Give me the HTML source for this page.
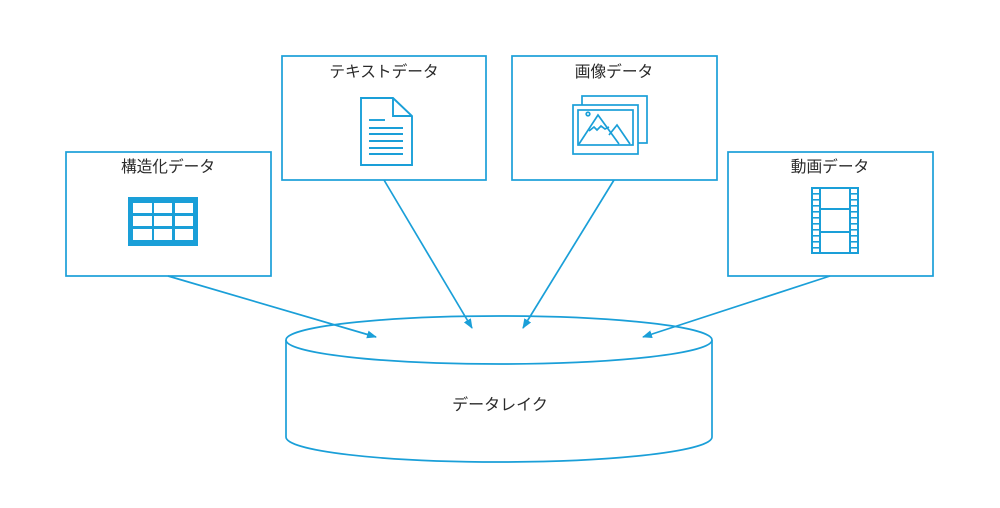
<!DOCTYPE html>
<html><head><meta charset="utf-8">
<style>
html,body{margin:0;padding:0;background:#fff;}
svg{display:block;}
text{font-family:"Liberation Sans","Noto Sans CJK JP",sans-serif;fill:#2a2a2a;}
</style></head>
<body>
<svg width="1000" height="508" viewBox="0 0 1000 508" xmlns="http://www.w3.org/2000/svg">
<defs>
<marker id="ah" markerWidth="10" markerHeight="8" refX="9" refY="4" orient="auto" markerUnits="userSpaceOnUse">
<path d="M0,0 L10,4 L0,8 Z" fill="#1a9fd8"/>
</marker>
</defs>
<g fill="none" stroke="#1a9fd8" stroke-width="1.7">
<!-- boxes -->
<rect x="66" y="152" width="205" height="124"/>
<rect x="282" y="56" width="204" height="124"/>
<rect x="512" y="56" width="205" height="124"/>
<rect x="728" y="152" width="205" height="124"/>
<!-- cylinder -->
<path d="M286,340 L286,437 A213,25 0 0 0 712,437 L712,340" fill="#fff"/>
<ellipse cx="499" cy="340" rx="213" ry="24" fill="#fff"/>
<!-- arrows -->
<line x1="168" y1="276" x2="376" y2="337" marker-end="url(#ah)"/>
<line x1="384" y1="180" x2="472" y2="328" marker-end="url(#ah)"/>
<line x1="614" y1="180" x2="523" y2="328" marker-end="url(#ah)"/>
<line x1="830" y1="276" x2="643" y2="337" marker-end="url(#ah)"/>
</g>

<!-- table icon -->
<rect x="128" y="197" width="70" height="49" fill="#1a9fd8"/>
<g fill="#fff">
<rect x="133" y="203" width="19" height="10"/><rect x="154" y="203" width="18" height="10"/><rect x="175" y="203" width="18" height="10"/>
<rect x="133" y="216" width="19" height="10"/><rect x="154" y="216" width="18" height="10"/><rect x="175" y="216" width="18" height="10"/>
<rect x="133" y="229" width="19" height="11"/><rect x="154" y="229" width="18" height="11"/><rect x="175" y="229" width="18" height="11"/>
</g>

<!-- document icon -->
<g fill="none" stroke="#1a9fd8" stroke-width="1.9">
<path d="M361,98 L393,98 L412,116 L412,165 L361,165 Z" fill="#fff"/>
<path d="M393,98 L393,116 L412,116"/>
<line x1="369" y1="120" x2="385" y2="120"/>
<line x1="369" y1="128" x2="403" y2="128"/>
<line x1="369" y1="134" x2="403" y2="134"/>
<line x1="369" y1="141" x2="403" y2="141"/>
<line x1="369" y1="148" x2="403" y2="148"/>
<line x1="369" y1="154" x2="403" y2="154"/>
</g>

<!-- image icon -->
<g fill="none" stroke="#1a9fd8" stroke-width="1.7">
<rect x="582" y="96" width="65" height="47" fill="#fff"/>
<rect x="573" y="105" width="65" height="49" fill="#fff"/>
<rect x="578" y="110" width="55" height="35"/>
<circle cx="588" cy="114" r="1.8"/>
<path d="M579,144 L598,115 L619,144"/>
<path d="M589,131 L594,127 L597,130 L601,126 L605,129 L609,127"/>
<path d="M609,135 L617,125 L630,144"/>
</g>

<!-- film icon -->
<g fill="none" stroke="#1a9fd8" stroke-width="2">
<rect x="812" y="188" width="46" height="65" fill="#fff"/>
<line x1="820" y1="188" x2="820" y2="253"/>
<line x1="850" y1="188" x2="850" y2="253"/>
<line x1="820" y1="209" x2="850" y2="209"/>
<line x1="820" y1="232" x2="850" y2="232"/>
</g>
<g fill="#1a9fd8">
<rect x="812" y="193" width="8" height="1.6"/><rect x="850" y="193" width="8" height="1.6"/>
<rect x="812" y="199" width="8" height="1.6"/><rect x="850" y="199" width="8" height="1.6"/>
<rect x="812" y="205" width="8" height="1.6"/><rect x="850" y="205" width="8" height="1.6"/>
<rect x="812" y="211" width="8" height="1.6"/><rect x="850" y="211" width="8" height="1.6"/>
<rect x="812" y="217" width="8" height="1.6"/><rect x="850" y="217" width="8" height="1.6"/>
<rect x="812" y="223" width="8" height="1.6"/><rect x="850" y="223" width="8" height="1.6"/>
<rect x="812" y="229" width="8" height="1.6"/><rect x="850" y="229" width="8" height="1.6"/>
<rect x="812" y="235" width="8" height="1.6"/><rect x="850" y="235" width="8" height="1.6"/>
<rect x="812" y="241" width="8" height="1.6"/><rect x="850" y="241" width="8" height="1.6"/>
<rect x="812" y="247" width="8" height="1.6"/><rect x="850" y="247" width="8" height="1.6"/>
</g>

<!-- labels -->
<g font-size="15.7" text-anchor="middle">
<text x="168" y="172">構造化データ</text>
<text x="384" y="77">テキストデータ</text>
<text x="614" y="77">画像データ</text>
<text x="830" y="172">動画データ</text>
<text x="500" y="410" font-size="16">データレイク</text>
</g>
</svg>
</body></html>
